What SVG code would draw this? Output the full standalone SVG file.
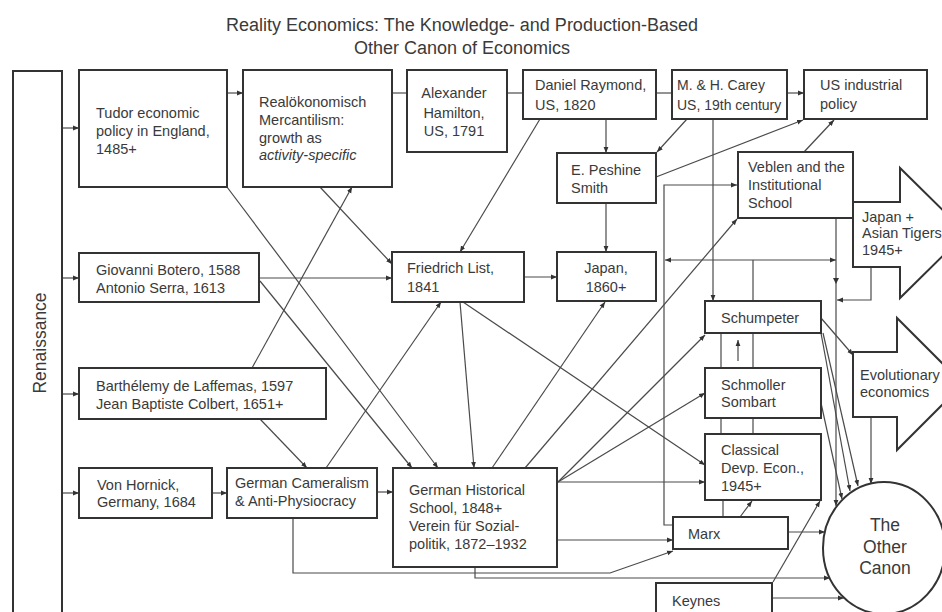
<svg xmlns="http://www.w3.org/2000/svg" width="942" height="612" viewBox="0 0 942 612">
<defs>
<style>
.box{fill:#fff;stroke:#333;stroke-width:2}
.c{fill:none;stroke:#4a4a4a;stroke-width:1.2}
.a{marker-end:url(#ah)}
text{font-family:"Liberation Sans",Arial,Helvetica,sans-serif;font-size:14.5px;fill:#3a3a3a}
.t{font-size:18px;text-anchor:middle}
.m{text-anchor:middle}
.big{font-size:17.5px;text-anchor:middle}
</style>
<marker id="ah" markerWidth="6" markerHeight="6" refX="6" refY="3" orient="auto" markerUnits="userSpaceOnUse"><path d="M0,0.6 L6,3 L0,5.4 z" fill="#333"/></marker>
<marker id="as" markerWidth="6" markerHeight="6" refX="6" refY="3" orient="auto-start-reverse" markerUnits="userSpaceOnUse"><path d="M0,0.6 L6,3 L0,5.4 z" fill="#333"/></marker>
</defs>
<rect width="942" height="612" fill="#fff"/>
<text class="t" x="462" y="31">Reality Economics: The Knowledge- and Production-Based</text>
<text class="t" x="462" y="54">Other Canon of Economics</text>

<g id="connectors">
<path class="c a" d="M62,128H79"/>
<path class="c a" d="M62,278H79"/>
<path class="c a" d="M62,394H79"/>
<path class="c a" d="M62,493H79"/>
<path class="c a" d="M227,93H243"/>
<path class="c" d="M392,93H407"/>
<path class="c" d="M507,93H523"/>
<path class="c" d="M656,93H672"/>
<path class="c a" d="M787,93H804"/>
<path class="c a" d="M606,119V153"/>
<path class="c a" d="M687,119L657,152"/>
<path class="c a" d="M656,177L803,120"/>
<path class="c a" d="M804,152L834,120"/>
<path class="c a" d="M540,119L460,252"/>
<path class="c a" d="M606,203V252"/>
<path class="c a" d="M524,277H557"/>
<path class="c a" d="M713,119V301"/>
<path class="c a" d="M673,525H664V185H737"/>
<path class="c" d="M665,260H836" marker-start="url(#as)" marker-end="url(#as)"/>
<path class="c" d="M753,301V260"/>
<path class="c a" d="M836,218V506"/>
<path d="M833,278L836,284L839,278z" fill="#333"/>
<path class="c a" d="M871,267V300H837"/>
<path class="c a" d="M821,318L853,355"/>
<path class="c a" d="M871,417V484"/>
<path class="c a" d="M821,333L850,491"/>
<path class="c a" d="M823,333L858,486"/>
<path class="c a" d="M821,403L842,499"/>
<path class="c a" d="M738,361V340"/>
<path class="c" d="M721,333V368M753,333V368M721,418V434M753,418V434M723,500V517"/>
<path class="c a" d="M740,517L752,501"/>
<path class="c a" d="M788,532H825"/>
<path class="c a" d="M772,598H844"/>
<path class="c a" d="M773,582L820,501"/>
<path class="c a" d="M557,482H705"/>
<path class="c a" d="M558,482L705,335"/>
<path class="c a" d="M558,482L705,393"/>
<path class="c a" d="M557,540H673"/>
<path class="c a" d="M492,468L605,302"/>
<path class="c a" d="M525,468L737,219"/>
<path class="c a" d="M460,302L474,468"/>
<path class="c a" d="M463,302L705,465"/>
<path class="c a" d="M326,468L441,302"/>
<path class="c a" d="M260,419L307,468"/>
<path class="c a" d="M252,368L352,187"/>
<path class="c a" d="M320,187L392,264"/>
<path class="c a" d="M227,187L438,468"/>
<path class="c a" d="M260,281L412,468"/>
<path class="c a" d="M259,278H392"/>
<path class="c a" d="M212,493H227"/>
<path class="c a" d="M377,492H393"/>
<path class="c a" d="M293,518V573H610L673,551"/>
<path class="c a" d="M475,567V578H830"/>
</g>

<g id="renaissance"><rect class="box" x="13" y="71" width="49" height="560"/><text class="big" transform="translate(46,343) rotate(-90)">Renaissance</text></g>
<g id="tudor"><rect class="box" x="79" y="70" width="148" height="117"/><text x="96" y="118">Tudor economic</text><text x="96" y="136">policy in England,</text><text x="96" y="154">1485+</text></g>
<g id="realoekonomisch"><rect class="box" x="243" y="70" width="149" height="117"/><text x="259" y="107">Realökonomisch</text><text x="259" y="125">Mercantilism:</text><text x="259" y="143">growth as</text><text x="259" y="160" font-style="italic">activity-specific</text></g>
<g id="hamilton"><rect class="box" x="407" y="70" width="100" height="82"/><text class="m" x="454" y="98">Alexander</text><text class="m" x="454" y="118">Hamilton,</text><text class="m" x="454" y="136">US, 1791</text></g>
<g id="raymond"><rect class="box" x="523" y="70" width="133" height="49"/><text x="535" y="90">Daniel Raymond,</text><text x="535" y="110">US, 1820</text></g>
<g id="carey"><rect class="box" x="672" y="70" width="115" height="49"/><text x="677" y="90" style="font-size:14px">M. &amp; H. Carey</text><text x="677" y="110" style="font-size:14px">US, 19th century</text></g>
<g id="us-industrial"><rect class="box" x="804" y="70" width="123" height="49"/><text x="820" y="90">US industrial</text><text x="820" y="109">policy</text></g>
<g id="peshine"><rect class="box" x="557" y="153" width="99" height="50"/><text x="571" y="175">E. Peshine</text><text x="571" y="193">Smith</text></g>
<g id="veblen"><rect class="box" x="738" y="152" width="115" height="66"/><text x="748" y="172">Veblen and the</text><text x="748" y="190">Institutional</text><text x="748" y="208">School</text></g>
<g id="japan-tigers"><polygon class="box" points="853,202 900,202 900,168 966,233 900,298 900,267 853,267"/><text x="862" y="222">Japan +</text><text x="862" y="238">Asian Tigers</text><text x="862" y="255">1945+</text></g>
<g id="list"><rect class="box" x="392" y="252" width="132" height="50"/><text x="407" y="273">Friedrich List,</text><text x="407" y="292">1841</text></g>
<g id="japan"><rect class="box" x="557" y="252" width="99" height="49"/><text class="m" x="606" y="273">Japan,</text><text class="m" x="606" y="292">1860+</text></g>
<g id="botero"><rect class="box" x="79" y="253" width="180" height="49"/><text x="96" y="275">Giovanni Botero, 1588</text><text x="96" y="293">Antonio Serra, 1613</text></g>
<g id="laffemas"><rect class="box" x="79" y="368" width="247" height="51"/><text x="96" y="391">Barthélemy de Laffemas, 1597</text><text x="96" y="409">Jean Baptiste Colbert, 1651+</text></g>
<g id="schumpeter"><rect class="box" x="705" y="301" width="116" height="32"/><text x="721" y="323">Schumpeter</text></g>
<g id="evolutionary"><polygon class="box" points="853,352 897,352 897,318 963,384 897,450 897,417 853,417"/><text x="860" y="380">Evolutionary</text><text x="860" y="397">economics</text></g>
<g id="schmoller"><rect class="box" x="705" y="368" width="116" height="50"/><text x="721" y="390">Schmoller</text><text x="721" y="407">Sombart</text></g>
<g id="classical"><rect class="box" x="705" y="434" width="116" height="66"/><text x="721" y="455">Classical</text><text x="721" y="473">Devp. Econ.,</text><text x="721" y="491">1945+</text></g>
<g id="hornick"><rect class="box" x="79" y="468" width="133" height="50"/><text x="97" y="490">Von Hornick,</text><text x="97" y="507">Germany, 1684</text></g>
<g id="cameralism"><rect class="box" x="227" y="468" width="150" height="50"/><text x="235" y="488">German Cameralism</text><text x="235" y="506">&amp; Anti-Physiocracy</text></g>
<g id="historical-school"><rect class="box" x="393" y="468" width="164" height="99"/><text x="409" y="495">German Historical</text><text x="409" y="513">School, 1848+</text><text x="409" y="531">Verein für Sozial-</text><text x="409" y="549">politik, 1872–1932</text></g>
<g id="marx"><rect class="box" x="673" y="517" width="115" height="32"/><text x="688" y="539">Marx</text></g>
<g id="keynes"><rect class="box" x="656" y="583" width="116" height="50"/><text x="672" y="606">Keynes</text></g>
<g id="other-canon"><ellipse class="box" cx="884" cy="548" rx="61" ry="66"/><text class="big" x="885" y="531">The</text><text class="big" x="885" y="553">Other</text><text class="big" x="885" y="574">Canon</text></g>
</svg>
